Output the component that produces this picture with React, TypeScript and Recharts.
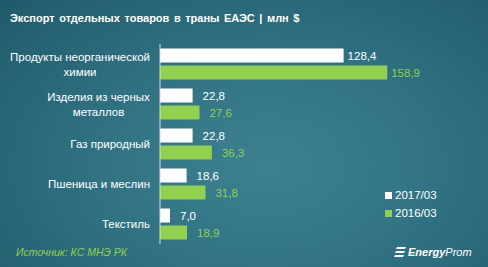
import { useLayoutEffect, useRef, useState } from 'react'
import { BarChart, Bar, XAxis, YAxis, LabelList } from 'recharts'

const categories = [
  'Продукты неорганической\nхимии',
  'Изделия из черных\nметаллов',
  'Газ природный',
  'Пшеница и меслин',
  'Текстиль',
]
const values2017 = [128.4, 22.8, 22.8, 18.6, 7.0]
const values2016 = [158.9, 27.6, 36.3, 31.8, 18.9]
const seriesNames = ['2017/03', '2016/03']

const data = categories.map((name, i) => ({
  name,
  y2017: values2017[i],
  y2016: values2016[i],
}))

const WHITE = '#ffffff'
const GREEN = '#92d050'
const AXIS_X = 160
const FONT = '"Liberation Sans", Arial, sans-serif'

const fmt = (v: number) => v.toFixed(1).replace('.', ',')

function CategoryTick({ y, payload }: any) {
  const ref = useRef<SVGTextElement>(null)
  const [w, setW] = useState(0)
  const lines = String(payload.value).split('\n')
  useLayoutEffect(() => {
    if (ref.current) setW(ref.current.getBBox().width)
  }, [payload.value])
  const cx = AXIS_X - 10 - w / 2
  const top = y - ((lines.length - 1) * 15) / 2
  return (
    <text ref={ref} x={cx} y={top} textAnchor="middle" fill={WHITE} fontSize={11.5} fontFamily={FONT}>
      {lines.map((l, i) => (
        <tspan key={i} x={cx} dy={i === 0 ? '0.35em' : 15}>
          {l}
        </tspan>
      ))}
    </text>
  )
}

const makeLabel = (color: string) => (props: any) => {
  const { x, y, width, height, value } = props
  const gap = value > 100 ? 4 : 10
  return (
    <text
      x={x + width + gap}
      y={y + height / 2}
      dy="0.35em"
      fill={color}
      fontSize={11.5}
      fontFamily={FONT}
    >
      {fmt(value)}
    </text>
  )
}

function LegendBox() {
  const colors = [WHITE, GREEN]
  return (
    <div
      style={{
        position: 'absolute',
        left: 385,
        top: 186,
        fontFamily: FONT,
        fontSize: 11.5,
        color: WHITE,
      }}
    >
      {seriesNames.map((n, i) => (
        <div key={n} style={{ display: 'flex', alignItems: 'center', height: 18 }}>
          <span style={{ width: 7, height: 7, background: colors[i], marginRight: 3 }} />
          {n}
        </div>
      ))}
    </div>
  )
}

export default function App() {
  return (
    <div
      style={{
        position: 'absolute',
        left: 0,
        top: 0,
        width: 488,
        height: 267,
        overflow: 'hidden',
        background:
          'radial-gradient(ellipse 75% 90% at 55% 62%, #3d8191 0%, #317383 45%, #205a6a 100%)',
      }}
    >
      <div
        style={{
          position: 'absolute',
          left: 10,
          top: 12,
          color: WHITE,
          fontFamily: FONT,
          fontWeight: 'bold',
          fontSize: 11,
          wordSpacing: 1.5,
        }}
      >
        Экспорт отдельных товаров в траны ЕАЭС | млн $
      </div>
      <BarChart
        width={488}
        height={267}
        data={data}
        layout="vertical"
        margin={{ top: 44, right: 42, bottom: 23, left: 0 }}
        barCategoryGap={4.5}
        barGap={3}
      >
        <XAxis type="number" domain={[0, 200]} hide />
        <YAxis
          type="category"
          dataKey="name"
          width={AXIS_X}
          axisLine={{ stroke: '#d9d9d9' }}
          tickLine={false}
          tick={<CategoryTick />}
          interval={0}
        />
        <Bar dataKey="y2017" name={seriesNames[0]} fill={WHITE} isAnimationActive={false}>
          <LabelList dataKey="y2017" content={makeLabel(WHITE)} />
        </Bar>
        <Bar dataKey="y2016" name={seriesNames[1]} fill={GREEN} isAnimationActive={false}>
          <LabelList dataKey="y2016" content={makeLabel(GREEN)} />
        </Bar>
      </BarChart>
      <LegendBox />
      <div
        style={{
          position: 'absolute',
          left: 16,
          top: 246,
          color: GREEN,
          fontFamily: FONT,
          fontStyle: 'italic',
          fontSize: 10.5,
        }}
      >
        Источник: КС МНЭ РК
      </div>
      <div
        style={{
          position: 'absolute',
          left: 394,
          top: 246,
          display: 'flex',
          alignItems: 'center',
          color: WHITE,
          fontFamily: FONT,
          fontStyle: 'italic',
          fontSize: 11,
        }}
      >
        <svg width={12} height={12} style={{ marginRight: 2 }}>
          <polygon points="3,1 12,1 11,3 2,3" fill={WHITE} />
          <polygon points="2,5 11,5 10,7 1,7" fill={WHITE} />
          <polygon points="1,9 10,9 9,11 0,11" fill={WHITE} />
        </svg>
        <span style={{ fontWeight: 'bold' }}>Energy</span>
        <span>Prom</span>
      </div>
    </div>
  )
}
